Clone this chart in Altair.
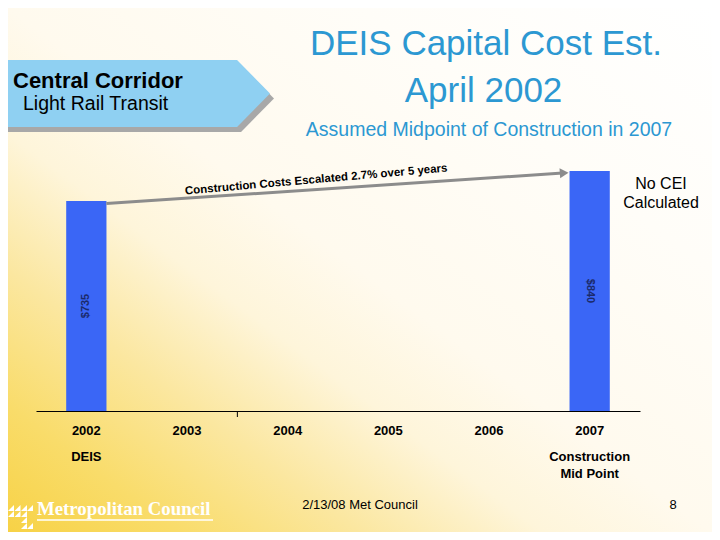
import altair as alt
import pandas as pd

# ---- data ----
years = ["2002", "2003", "2004", "2005", "2006", "2007"]
bar_years = ["2002", "2007"]
bar_costs = [735, 840]
bar_labels = ["$735", "$840"]
label_angles = [270, 90]
sub_labels = ["DEIS", "Construction\nMid Point"]
odd_tick_year = ["2004"]

title1 = "DEIS Capital Cost Est."
title2 = "April 2002"
subtitle = "Assumed Midpoint of Construction in 2007"
banner1 = "Central Corridor"
banner2 = "Light Rail Transit"
note_right = ["No CEI", "Calculated"]
arrow_note = "Construction Costs Escalated 2.7% over 5 years"
footer = "2/13/08 Met Council"
page_no = "8"
logo_text = "Metropolitan Council"

# ---- layout ----
W, H = 604, 403
PAD = {"left": 28, "top": 0, "right": 72, "bottom": 121}
FONT = "Liberation Sans"
BLUE = "#3A66F6"
TITLE_BLUE = "#2C98D2"
GRAY = "#8C8C8C"

one = pd.DataFrame({"k": [0]})
bars_df = pd.DataFrame({"year": bar_years, "cost": bar_costs,
                        "label": bar_labels, "angle": label_angles})
bars_df["mid"] = bars_df["cost"] / 2
sub_df = pd.DataFrame({"year": bar_years, "sub": sub_labels})
rule_df = pd.DataFrame({"x1": [bar_years[0]], "x2": [bar_years[-1]],
                        "y1": [bar_costs[0]], "y2": [bar_costs[-1]]})
tick_df = pd.DataFrame({"t": odd_tick_year})

xs = alt.Scale(domain=years, paddingInner=0.6, paddingOuter=0.3)
ys = alt.Scale(domain=[0, 1410.5], nice=False, zero=True)
xaxis = alt.Axis(labelFont=FONT, labelFontWeight="bold", labelFontSize=13,
                 labelColor="black", labelPadding=13, ticks=False, tickSize=0,
                 domainColor="black", domainWidth=1, labelAngle=0, grid=False,
                 title=None, zindex=1)


def txt(s, x, y, size, color="black", weight="normal", align="center",
        baseline="alphabetic", font=FONT, angle=None, line_height=None):
    kw = dict(text=s, fontSize=size, color=color, fontWeight=weight,
              align=align, baseline=baseline, font=font)
    if angle is not None:
        kw["angle"] = angle
    if line_height is not None:
        kw["lineHeight"] = line_height
    return alt.Chart(one).mark_text(**kw).encode(x=alt.value(x), y=alt.value(y))


def sym(shape, x, y, size, color, angle=None):
    kw = dict(shape=shape, size=size, filled=True, color=color, opacity=1,
              strokeWidth=0)
    if angle is not None:
        kw["angle"] = angle
    return alt.Chart(one).mark_point(**kw).encode(x=alt.value(x), y=alt.value(y))


background = alt.Chart(one).mark_rect(
    fill={"gradient": "linear", "x1": 0, "y1": 1, "x2": 1, "y2": 0,
          "stops": [{"offset": 0, "color": "#F7D246"},
                    {"offset": 0.12, "color": "#F9DC6A"},
                    {"offset": 0.25, "color": "#FBE7A0"},
                    {"offset": 0.38, "color": "#FEF5DA"},
                    {"offset": 0.5, "color": "#FFFAEE"},
                    {"offset": 0.75, "color": "#FFFDF8"},
                    {"offset": 1, "color": "#FFFFFF"}]}
).encode(x=alt.value(-28), x2=alt.value(676), y=alt.value(0), y2=alt.value(524))

banner_path = "M -1 -0.248 L 0.756 -0.248 L 1 0 L 0.756 0.248 L -1 0.248 Z"
banner_shadow = sym(banner_path, 103, 90.5, 72900, "#A8A8A8")
banner = sym(banner_path, 99, 85.5, 72900, "#8FD0F2")

tri = "M -1 1 L 1 -1 L 1 1 Z"
logo_icon = alt.layer(*[
    sym(tri, px - 36, py - 8, 36, "white")
    for px, py in [(11, 508), (17.5, 508), (24, 508), (30, 508),
                   (11, 514), (17.5, 514), (24, 514),
                   (24, 520), (24, 526), (30, 526)]
])

bars = alt.Chart(bars_df).mark_bar(color=BLUE).encode(
    x=alt.X("year:N", scale=xs, axis=xaxis),
    y=alt.Y("cost:Q", scale=ys, axis=None),
)

bar_text = alt.Chart(bars_df).mark_text(
    font=FONT, fontWeight="bold", fontSize=11, color="#1B2A6B",
    align="center", baseline="middle"
).encode(
    x=alt.X("year:N", scale=xs, axis=xaxis),
    y=alt.Y("mid:Q", scale=ys, axis=None),
    text="label:N",
    angle=alt.Angle("angle:Q", scale=None),
)

sub_text = alt.Chart(sub_df).mark_text(
    font=FONT, fontWeight="bold", fontSize=13, color="black",
    align="center", baseline="top", lineBreak="\n", lineHeight=16.5
).encode(
    x=alt.X("year:N", scale=xs, axis=xaxis),
    y=alt.value(443),
    text="sub:N",
)

arrow_line = alt.Chart(rule_df).mark_rule(
    color=GRAY, strokeWidth=3, xOffset=20, x2Offset=-27, yOffset=2.5, y2Offset=2
).encode(
    x=alt.X("x1:N", scale=xs, axis=xaxis), x2="x2:N",
    y=alt.Y("y1:Q", scale=ys, axis=None), y2="y2:Q",
)

arrow_head = alt.Chart(rule_df).mark_point(
    shape="triangle-right", filled=True, color=GRAY, opacity=1, size=100,
    angle=356, xOffset=-25.5, yOffset=2
).encode(
    x=alt.X("x2:N", scale=xs, axis=xaxis),
    y=alt.Y("y2:Q", scale=ys, axis=None),
)

odd_tick = alt.Chart(tick_df).mark_rule(color="black", strokeWidth=1, xOffset=-50.3).encode(
    x=alt.X("t:N", scale=xs, axis=xaxis),
    y=alt.value(403), y2=alt.value(409),
)

texts = [
    txt(title1, 450, 47, 35, color=TITLE_BLUE),
    txt(title2, 447.5, 94, 35, color=TITLE_BLUE),
    txt(subtitle, 453, 128, 19.5, color=TITLE_BLUE),
    txt(banner1, -23, 80, 22, weight="bold", align="left"),
    txt(banner2, -13, 101.5, 19.5, align="left"),
    txt(note_right, 625, 181, 16, line_height=19),
    txt(arrow_note, 280.5, 175, 11.5, weight="bold", angle=355),
    txt(footer, 324, 496.5, 13, baseline="middle"),
    txt(page_no, 637, 496.5, 13, baseline="middle"),
    txt(logo_text, 1, 507, 18.8, color="white", weight="bold", align="left",
        font="Liberation Serif"),
]

underline = alt.Chart(one).mark_rule(color="white", strokeWidth=1.5).encode(
    x=alt.value(1), x2=alt.value(177), y=alt.value(512)
)

chart = alt.layer(
    background, banner_shadow, banner, logo_icon, underline,
    bars, bar_text, sub_text, arrow_line, arrow_head, odd_tick, *texts
).properties(
    width=W, height=H, padding=PAD, autosize=alt.AutoSizeParams(type="none")
).configure_view(stroke=None).configure_axis(grid=False)

chart.save("out.html", embed_options={"renderer": "svg", "actions": False})
